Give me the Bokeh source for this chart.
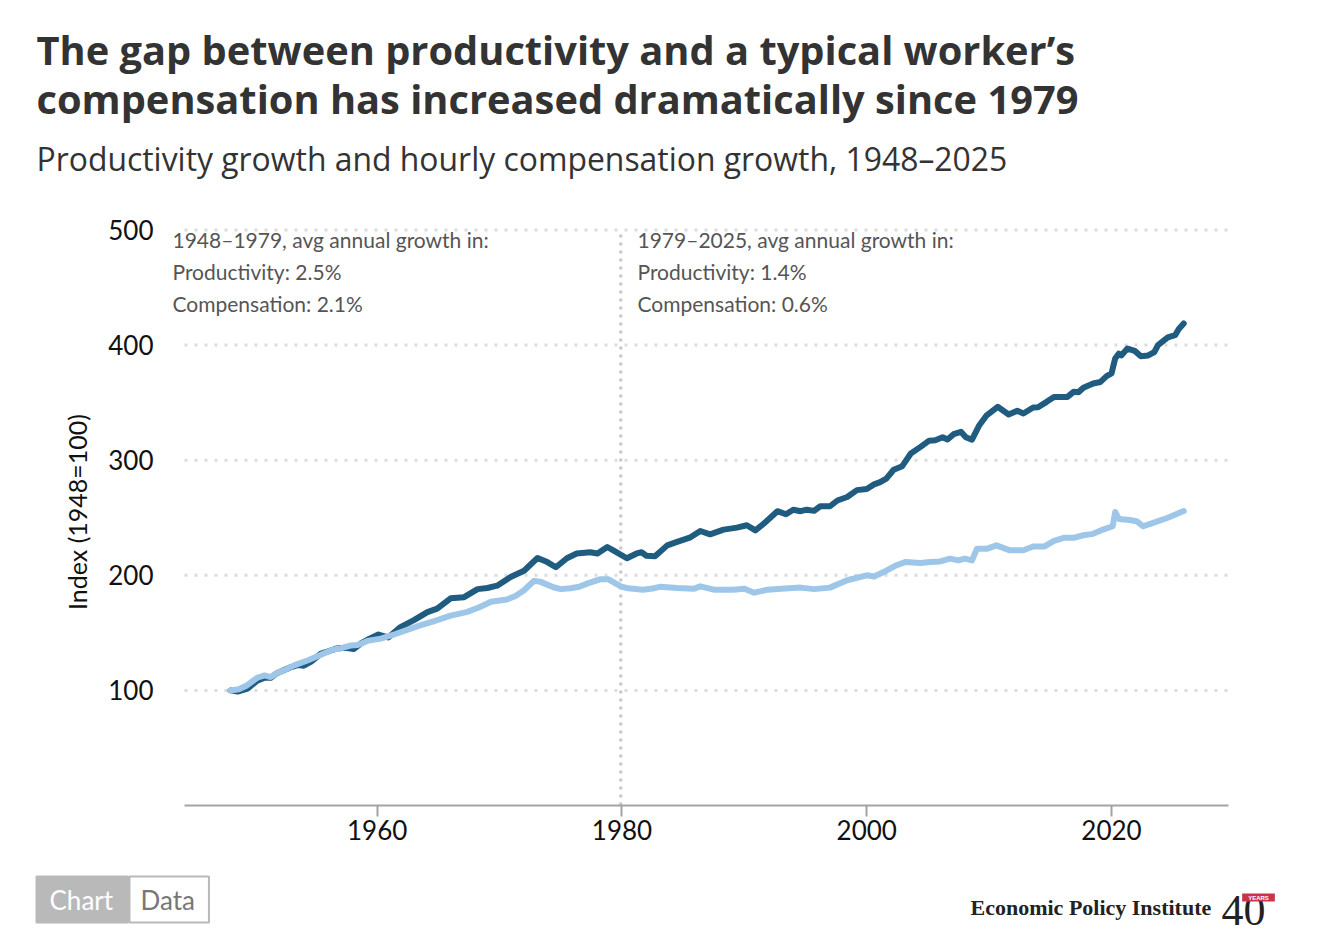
from bokeh.plotting import figure
from bokeh.models import Label, FixedTicker, Range1d
from bokeh.layouts import column
from bokeh.embed import file_html
from bokeh.resources import INLINE

# ---------------- data ----------------
prod_years = [1948.0, 1948.6, 1949.4, 1950.2, 1950.8, 1951.3, 1951.8, 1952.9, 1953.5, 1954.0,
              1954.6, 1955.4, 1956.0, 1956.7, 1957.4, 1958.1, 1958.7, 1959.2, 1960.1, 1960.9,
              1961.9, 1963.0, 1964.1, 1964.9, 1966.0, 1967.1, 1968.2, 1969.0, 1969.8, 1970.9,
              1972.0, 1972.6, 1973.1, 1973.9, 1974.6, 1975.5, 1976.3, 1977.4, 1978.0, 1978.8,
              1979.4, 1980.4, 1981.2, 1981.6, 1982.0, 1982.7, 1983.7, 1984.5, 1985.6, 1986.4,
              1987.2, 1988.3, 1989.4, 1990.2, 1990.9, 1991.6, 1992.7, 1993.4, 1994.0, 1994.6,
              1995.1, 1995.7, 1996.2, 1997.0, 1997.6, 1998.4, 1999.2, 2000.0, 2000.6, 2001.1,
              2001.6, 2002.2, 2002.9, 2003.6, 2004.4, 2005.1, 2005.6, 2006.2, 2006.6, 2007.1,
              2007.7, 2008.1, 2008.6, 2009.2, 2009.8, 2010.7, 2011.6, 2012.3, 2012.8, 2013.6,
              2014.0, 2014.7, 2015.3, 2016.4, 2016.9, 2017.3, 2017.7, 2018.5, 2019.1, 2019.6,
              2020.0, 2020.3, 2020.6, 2020.8, 2021.3, 2021.9, 2022.4, 2023.0, 2023.5, 2023.8,
              2024.6, 2025.2, 2025.5, 2025.9]
prod_values = [100.0, 99.0, 101.5, 108.5, 111.0, 111.0, 115.0, 120.0, 122.0, 121.5,
               125.0, 132.0, 134.0, 136.5, 137.0, 136.0, 141.0, 144.0, 148.5, 146.0,
               155.0, 161.0, 168.0, 171.0, 180.0, 181.0, 188.0, 189.0, 191.0, 198.5,
               204.0, 210.0, 215.0, 211.5, 207.0, 214.8, 219.0, 220.0, 219.0, 224.6,
               221.0, 214.8, 219.0, 220.0, 217.0, 216.5, 226.0, 229.0, 233.0, 238.5,
               235.6, 239.7, 241.4, 243.5, 239.0, 245.0, 255.7, 253.0, 257.0, 255.7,
               257.0, 256.0, 260.0, 260.0, 265.0, 268.0, 274.0, 275.0, 279.0, 281.0,
               284.0, 291.7, 294.8, 305.8, 311.6, 317.0, 317.4, 320.0, 318.0, 322.6,
               324.6, 320.0, 317.8, 330.4, 339.0, 346.4, 339.7, 342.9, 340.6, 345.8,
               346.0, 350.7, 355.0, 355.0, 359.4, 359.0, 363.0, 366.7, 368.0, 373.0,
               375.4, 388.4, 392.6, 391.0, 397.0, 395.0, 390.4, 391.0, 394.0, 400.0,
               406.7, 408.7, 414.0, 418.8]

comp_years = [1948.0, 1948.7, 1949.3, 1950.2, 1950.8, 1951.3, 1951.8, 1952.5, 1953.2, 1954.3,
              1955.4, 1956.4, 1957.0, 1957.8, 1958.4, 1959.2, 1960.3, 1961.5, 1963.5, 1964.6,
              1966.0, 1967.3, 1968.3, 1969.3, 1970.6, 1971.3, 1972.0, 1972.8, 1973.3, 1974.4,
              1975.0, 1975.8, 1976.5, 1977.2, 1978.2, 1978.9, 1979.9, 1980.5, 1981.7, 1982.5,
              1983.1, 1984.5, 1985.9, 1986.4, 1987.5, 1989.1, 1990.0, 1990.8, 1991.9, 1993.0,
              1994.6, 1995.7, 1997.0, 1998.4, 2000.0, 2000.6, 2001.6, 2002.4, 2003.2, 2004.4,
              2005.2, 2006.0, 2006.8, 2007.5, 2008.0, 2008.6, 2009.0, 2009.8, 2010.6, 2011.7,
              2012.8, 2013.6, 2014.5, 2015.3, 2016.1, 2016.9, 2017.7, 2018.5, 2019.3, 2020.1,
              2020.3, 2020.6, 2021.5, 2022.1, 2022.6, 2023.4, 2024.6, 2025.9]
comp_values = [100.0, 101.0, 104.0, 111.0, 113.0, 111.6, 115.0, 118.0, 121.7, 126.0,
               131.0, 135.6, 136.5, 139.0, 139.5, 143.0, 145.0, 149.0, 156.5, 160.0,
               165.0, 168.0, 172.0, 177.0, 179.0, 182.0, 187.0, 195.0, 194.5, 189.6,
               188.0, 188.7, 190.0, 193.0, 196.5, 196.5, 190.4, 188.7, 187.5, 188.5,
               190.0, 189.0, 188.4, 190.4, 187.5, 187.5, 188.4, 184.9, 187.5, 188.4,
               189.3, 188.0, 189.3, 195.7, 200.0, 199.0, 204.0, 208.7, 211.6, 210.7,
               211.6, 212.0, 214.5, 213.0, 214.5, 213.0, 223.0, 223.0, 226.0, 221.7,
               221.7, 225.0, 225.0, 229.9, 232.6, 232.6, 234.8, 236.0, 239.7, 242.6,
               255.0, 249.0, 248.0, 246.7, 242.6, 245.5, 250.0, 255.8]

y_ticks = [100, 200, 300, 400, 500]
x_ticks = [1960, 1980, 2000, 2020]
axis_span = (1944.25, 2029.56)     # extent of the x-axis line and gridlines
divider_year = 1979.9

title_lines = ["The gap between productivity and a typical worker\u2019s",
               "compensation has increased dramatically since 1979"]
subtitle = "Productivity growth and hourly compensation growth, 1948\u20132025"
note_left = ["1948\u20131979, avg annual growth in:", "Productivity: 2.5%", "Compensation: 2.1%"]
note_right = ["1979\u20132025, avg annual growth in:", "Productivity: 1.4%", "Compensation: 0.6%"]

DARK = "#1f5c80"
LIGHT = "#9dc6e9"
FONT = "Lato"
HEAD_FONT = "Open Sans"
W = 1308


def text_panel(top, bottom):
    """A figure used as a blank canvas for text, with y = page pixel row."""
    f = figure(width=W, height=bottom - top, output_backend="svg", toolbar_location=None,
               x_range=Range1d(0, W), y_range=Range1d(bottom, top),
               x_axis_type=None, y_axis_type=None, min_border=0, frame_align=False)
    f.outline_line_color = None
    f.grid.visible = False
    return f


def lab(f, text, x, y, size, color, font=FONT, style="normal", align="left",
        baseline="alphabetic", **kw):
    f.add_layout(Label(x=x, y=y, text=text, text_font=font, text_font_size=size,
                       text_font_style=style, text_color=color, text_align=align,
                       text_baseline=baseline, **kw))


# ---------------- header ----------------
HDR_TOP, HDR_BOT = 0, 200
hdr = text_panel(HDR_TOP, HDR_BOT)
lab(hdr, title_lines[0], 36, 49, "39.8px", "#333333", font=HEAD_FONT, style="bold")
lab(hdr, title_lines[1], 36, 98, "39.8px", "#333333", font=HEAD_FONT, style="bold")
lab(hdr, subtitle, 36, 158, "31.9px", "#333333", font=HEAD_FONT)

# ---------------- main chart ----------------
MAIN_TOP, MAIN_BOT = 200, 860
FRAME_L, FRAME_R, FRAME_T, FRAME_B = 168, 1228, 218, 805
px_per_year = 12.238
x_start = 1960 - (376.7 - FRAME_L) / px_per_year

p = figure(width=W, height=MAIN_BOT - MAIN_TOP, output_backend="svg", toolbar_location=None,
           x_range=Range1d(x_start, axis_span[1]), y_range=Range1d(0, 510),
           min_border_left=FRAME_L, min_border_right=W - FRAME_R,
           min_border_top=FRAME_T - MAIN_TOP, min_border_bottom=MAIN_BOT - FRAME_B,
           frame_align=False)
p.outline_line_color = None

p.xaxis.ticker = FixedTicker(ticks=x_ticks)
p.xaxis.bounds = axis_span
p.xaxis.axis_line_color = "#a3a3a3"
p.xaxis.axis_line_width = 2
p.xaxis.major_tick_line_color = "#a3a3a3"
p.xaxis.major_tick_line_width = 2
p.xaxis.major_tick_out = 11
p.xaxis.major_tick_in = 0
p.xaxis.minor_tick_line_color = None
p.xaxis.major_label_text_font = FONT
p.xaxis.major_label_text_font_size = "26px"
p.xaxis.major_label_text_color = "#111111"
p.xaxis.major_label_standoff = 3

p.yaxis.ticker = FixedTicker(ticks=y_ticks)
p.yaxis.axis_line_color = None
p.yaxis.major_tick_line_color = None
p.yaxis.minor_tick_line_color = None
p.yaxis.major_tick_out = 0
p.yaxis.major_tick_in = 0
p.yaxis.major_label_standoff = 15
p.yaxis.major_label_text_font = FONT
p.yaxis.major_label_text_font_size = "26px"
p.yaxis.major_label_text_color = "#111111"
p.yaxis.axis_label = "Index (1948=100)"
p.yaxis.axis_label_text_font = FONT
p.yaxis.axis_label_text_font_size = "25px"
p.yaxis.axis_label_text_font_style = "normal"
p.yaxis.axis_label_text_color = "#111111"
p.yaxis.axis_label_standoff = 13

p.grid.visible = False
# horizontal dotted gridlines limited to the axis extent
p.segment(x0=[axis_span[0]] * len(y_ticks), x1=[axis_span[1]] * len(y_ticks),
          y0=y_ticks, y1=y_ticks, line_color="#dcdcdc", line_width=3, line_dash="3 7")

# divider
p.segment(x0=[divider_year], y0=[0], x1=[divider_year], y1=[y_ticks[-1]],
          line_color="#c6c6c6", line_width=3, line_dash="3 5")

# series
p.line(prod_years, prod_values, line_color=DARK, line_width=6,
       line_join="round", line_cap="round")
p.line(comp_years, comp_values, line_color=LIGHT, line_width=6,
       line_join="round", line_cap="round")

# notes (page coordinates -> frame-relative screen units)
for i, t in enumerate(note_left):
    p.add_layout(Label(x=172 - FRAME_L, y=FRAME_B - (251 + 32 * i), x_units="screen",
                       y_units="screen", text=t, text_font=FONT, text_font_size="21px",
                       text_color="#555555"))
for i, t in enumerate(note_right):
    p.add_layout(Label(x=637 - FRAME_L, y=FRAME_B - (251 + 32 * i), x_units="screen",
                       y_units="screen", text=t, text_font=FONT, text_font_size="21px",
                       text_color="#555555"))

# ---------------- footer ----------------
FT_TOP, FT_BOT = 860, 940
ft = text_panel(FT_TOP, FT_BOT)
lab(ft, "Chart", 36, 876, "26px", "white", baseline="top",
    background_fill_color="#b9b9b9", border_line_color="#b9b9b9", border_line_width=2,
    padding=dict(left=13, right=15, top=7, bottom=7))
lab(ft, "Data", 129, 876, "26px", "#777777", baseline="top",
    background_fill_color="white", border_line_color="#b9b9b9",
    border_line_width=2, padding=dict(left=11, right=14, top=7, bottom=7))
lab(ft, "Economic Policy Institute", 970, 907, "22px", "#222222",
    font="Liberation Serif", style="bold")
lab(ft, "40", 1221, 910, "44px", "#222222", font="Liberation Serif")
lab(ft, "YEARS", 1258, 897, "6px", "white", font="Liberation Sans", style="bold",
    align="center", baseline="middle", background_fill_color="#c8344a",
    padding=dict(left=6, right=6, top=1, bottom=1))

layout = column(hdr, p, ft, spacing=0)
open("out.html", "w").write(file_html(layout, INLINE))
